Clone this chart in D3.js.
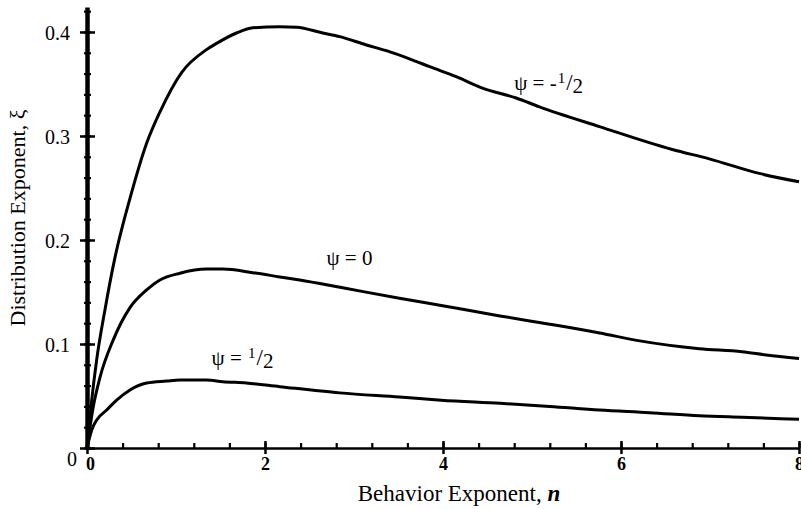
<!DOCTYPE html>
<html>
<head>
<meta charset="utf-8">
<script src="https://cdn.jsdelivr.net/npm/d3@7"></script>
<style>
  body { margin: 0; background: #fff; }
  svg text { font-family: "Liberation Serif", "Times New Roman", serif; fill: #000; }
</style>
</head>
<body>
<div id="chart"></div>
<script>
// Curve values: [n, xi]
const seriesNeg = [[0,0],[0.053,0.046],[0.109,0.085],[0.202,0.133],[0.314,0.183],[0.483,0.24],[0.67,0.293],[0.819,0.323],[1.063,0.361],[1.343,0.383],[1.456,0.389],[1.68,0.399],[1.863,0.404],[2.166,0.405],[2.354,0.4045],[2.649,0.399],[2.84,0.3955],[3.139,0.3875],[3.364,0.382],[3.659,0.373],[3.85,0.3666],[4.149,0.357],[4.444,0.346],[4.823,0.3365],[5.084,0.328],[5.758,0.309],[6.577,0.287],[6.992,0.278],[7.553,0.264],[8,0.256]];
const seriesZero = [[0,0],[0.071,0.04],[0.146,0.068],[0.295,0.104],[0.483,0.135],[0.67,0.152],[0.819,0.1615],[1.044,0.168],[1.343,0.172],[1.526,0.172],[1.863,0.1686],[2.166,0.1645],[2.39,0.1615],[2.873,0.154],[3.51,0.144],[3.98,0.137],[4.64,0.127],[5.2,0.119],[5.76,0.1106],[6.21,0.103],[6.88,0.0955],[7.36,0.0925],[7.63,0.0895],[8,0.086]];
const seriesPos = [[0,0],[0.053,0.0173],[0.109,0.027],[0.221,0.0365],[0.333,0.046],[0.483,0.0558],[0.67,0.0625],[0.894,0.0644],[1.044,0.0654],[1.343,0.0654],[1.526,0.0638],[1.79,0.0625],[2.166,0.059],[2.84,0.053],[3.51,0.049],[3.98,0.046],[4.64,0.043],[5.2,0.04],[5.76,0.0365],[6.32,0.034],[6.88,0.031],[7.36,0.0295],[8,0.0276]];

const xMajor = [0, 2, 4, 6, 8];
const xMinor = d3.range(0, 8.01, 0.4);
const yMajor = [0, 0.1, 0.2, 0.3, 0.4];
const yMinor = d3.range(0, 0.421, 0.02);

const width = 801, height = 509;
const svg = d3.select("#chart").append("svg")
  .attr("width", width)
  .attr("height", height);

// scales
const x = d3.scaleLinear().domain([0, 8]).range([87, 799]);
const y = d3.scaleLinear().domain([0, 0.424]).range([448, 7]);

// x minor ticks (above axis only)
svg.append("g")
  .attr("transform", `translate(0,${y(0)})`)
  .call(d3.axisBottom(x).tickValues(xMinor).tickSize(-5).tickSizeOuter(0).tickFormat(""))
  .call(g => g.select(".domain").remove())
  .call(g => g.selectAll(".tick line").attr("stroke-width", 2.2));

// x major axis
const xAxis = svg.append("g")
  .attr("transform", `translate(0,${y(0)})`)
  .call(d3.axisBottom(x).tickValues(xMajor).tickSizeOuter(0).tickFormat(d3.format("d")));
xAxis.select(".domain").attr("stroke-width", 2.5);
xAxis.selectAll(".tick line").attr("y1", -7).attr("y2", 6).attr("stroke-width", 2.5);
xAxis.selectAll(".tick text")
  .attr("y", 9)
  .style("font-size", "18px")
  .style("font-weight", "bold")
  .attr("dx", d => d === 0 ? 3 : 0);

// y minor ticks
svg.append("g")
  .attr("transform", `translate(${x(0)},0)`)
  .call(d3.axisLeft(y).tickValues(yMinor).tickSizeOuter(0).tickFormat(""))
  .call(g => g.select(".domain").remove())
  .call(g => g.selectAll(".tick line").attr("x1", -3).attr("x2", 4).attr("stroke-width", 2.2));

// y major axis (thick)
const yAxis = svg.append("g")
  .attr("transform", `translate(${x(0)},0)`)
  .call(d3.axisLeft(y).tickValues(yMajor).tickSizeOuter(0)
    .tickFormat(d => d === 0 ? "" : d3.format(".1f")(d)));
yAxis.select(".domain").attr("stroke-width", 4.5);
yAxis.selectAll(".tick line").attr("x1", -7).attr("x2", 8).attr("stroke-width", 2.5);
yAxis.selectAll(".tick text")
  .attr("x", -17)
  .attr("dy", "0.4em")
  .style("font-size", "20px");

// origin label of the y axis
svg.append("text")
  .attr("x", x(0) - 15)
  .attr("y", y(0) + 18)
  .attr("text-anchor", "middle")
  .style("font-size", "20px")
  .text("0");

// curves
const line = d3.line()
  .x(d => x(d[0]))
  .y(d => y(d[1]))
  .curve(d3.curveMonotoneX);

[seriesNeg, seriesZero, seriesPos].forEach(s => {
  svg.append("path")
    .datum(s)
    .attr("fill", "none")
    .attr("stroke", "#000")
    .attr("stroke-width", 3)
    .attr("stroke-linejoin", "round")
    .attr("d", line);
});

// curve labels
function psiLabel(px, py, sign, frac) {
  const t = svg.append("text")
    .attr("x", px)
    .attr("y", py)
    .style("font-size", "21px");
  t.append("tspan").text("\u03C8 = " + sign);
  if (frac) {
    t.append("tspan").attr("dx", 1).attr("dy", -7).style("font-size", "15px").text("1");
    t.append("tspan").attr("dx", 1).attr("dy", 7).style("font-size", "23px").text("/");
    t.append("tspan").attr("dy", 3).text("2");
  } else {
    t.append("tspan").text("0");
  }
}
psiLabel(x(4.8), y(0.344), "-", true);
psiLabel(x(2.69), y(0.176), "", false);
psiLabel(x(1.4), y(0.08), "", true);

// axis titles
svg.append("text")
  .attr("x", 459)
  .attr("y", 501)
  .attr("text-anchor", "middle")
  .style("font-size", "23px")
  .call(t => {
    t.append("tspan").text("Behavior Exponent, ");
    t.append("tspan").style("font-style", "italic").style("font-weight", "bold").text("n");
  });

svg.append("text")
  .attr("transform", "translate(25,218) rotate(-90)")
  .attr("text-anchor", "middle")
  .style("font-size", "22px")
  .text("Distribution Exponent, \u03BE");
</script>
</body>
</html>
